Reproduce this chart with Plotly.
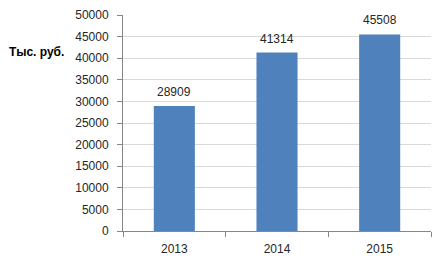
import plotly.graph_objects as go

years = ["2013", "2014", "2015"]
values = [28909, 41314, 45508]
y_ticks = list(range(0, 50001, 5000))
y_title = "Тыс. руб."

font = "Liberation Sans"

fig = go.Figure(go.Bar(
    x=years, y=values,
    marker=dict(color="#4f81bd", line=dict(color="#4f81bd", width=0)),
    cliponaxis=False,
))

for i, v in enumerate(values):
    fig.add_annotation(
        x=i, y=v, xref="x", yref="y", text=str(v), showarrow=False,
        yanchor="middle", yshift=14,
        font=dict(family=font, size=12, color="#262626"),
    )

fig.add_annotation(
    text="<b>" + y_title + "</b>", xref="paper", yref="paper",
    x=-57/308, y=(231-52)/216, xanchor="right", yanchor="middle",
    showarrow=False, font=dict(family=font, size=12, color="#000000"),
)

fig.update_layout(
    width=445, height=265,
    margin=dict(l=123, r=14, t=15, b=34),
    paper_bgcolor="white", plot_bgcolor="white",
    bargap=0.6,
    showlegend=False,
    font=dict(family=font, size=12, color="#262626"),
    xaxis=dict(
        type="category", automargin=False,
        showline=True, linecolor="#868686", linewidth=1,
        ticks="outside", tickson="boundaries", ticklen=5, tickcolor="#868686",
        showgrid=False, tickfont=dict(size=12), ticklabelstandoff=7,
    ),
    yaxis=dict(
        automargin=False,
        range=[0, 50000], tickvals=y_ticks, ticktext=[str(v) for v in y_ticks],
        showline=True, linecolor="#868686", linewidth=1,
        ticks="outside", ticklen=5, tickcolor="#868686",
        showgrid=True, gridcolor="#d9d9d9", gridwidth=1,
        zeroline=False, tickfont=dict(size=12), ticklabelstandoff=6,
    ),
)

fig.write_html("out.html")
